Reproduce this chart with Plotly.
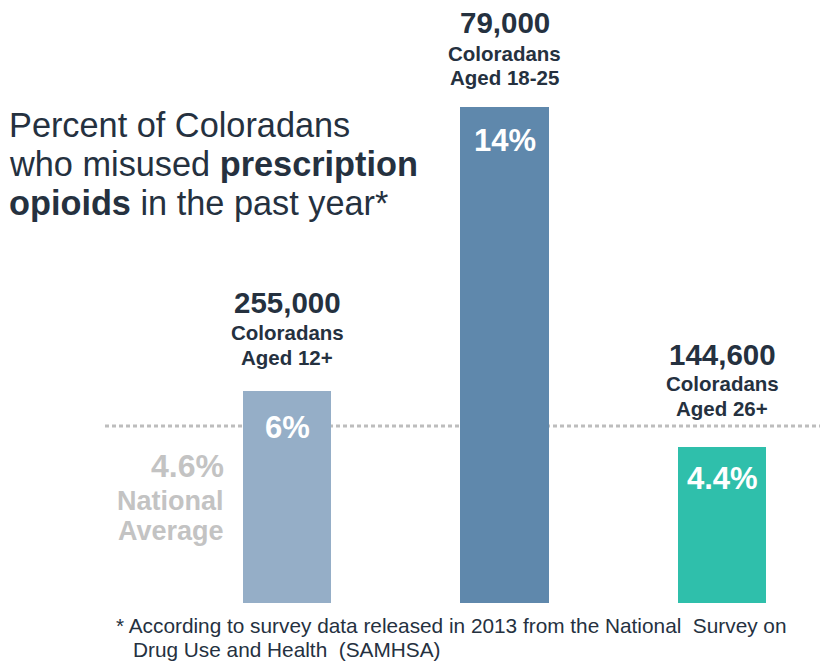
import plotly.graph_objects as go

# ---- data ----
groups = ["Aged 12+", "Aged 18-25", "Aged 26+"]
percent = [6, 14, 4.4]
percent_labels = ["6%", "14%", "4.4%"]
counts = ["255,000", "79,000", "144,600"]
national_avg_label = "4.6%"
national_avg_line_level = 5.0  # where the dotted reference line sits on the chart

# ---- styling / layout ----
W, H = 820, 662
PLOT_H = 603
bar_colors = ["#95AEC7", "#5F88AC", "#2FBFAB"]
navy = "#25313F"
grey = "#C3C3C3"
FONT = "Liberation Sans"

def px_x(px):
    return px / W

def px_y(py):
    return (PLOT_H - py) / PLOT_H

xs = list(range(len(groups)))

fig = go.Figure()
fig.add_trace(go.Bar(
    x=xs, y=percent, width=0.405,
    marker=dict(color=bar_colors, line=dict(width=0)),
    hoverinfo="skip", showlegend=False,
))

# dotted national average line
fig.add_shape(type="line", xref="paper", yref="y",
              x0=px_x(105), x1=1, y0=national_avg_line_level, y1=national_avg_line_level,
              line=dict(color="#BDBDBD", width=3, dash="4px,3px"), layer="below")

ann = []
num_shift = [88, 85, 93]
l1_shift = [58, 54, 64]
l2_shift = [33, 30, 39]
in_shift = [-37, -33, -31]
for i, g in enumerate(groups):
    ann.append(dict(x=i, y=percent[i], xref="x", yref="y", yanchor="middle", yshift=num_shift[i],
                    text=f"<b>{counts[i]}</b>", showarrow=False,
                    font=dict(family=FONT, size=29.5, color=navy)))
    ann.append(dict(x=i, y=percent[i], xref="x", yref="y", yanchor="middle", yshift=l1_shift[i],
                    text="<b>Coloradans</b>", showarrow=False,
                    font=dict(family=FONT, size=20.5, color=navy)))
    ann.append(dict(x=i, y=percent[i], xref="x", yref="y", yanchor="middle", yshift=l2_shift[i],
                    text=f"<b>{g}</b>", showarrow=False,
                    font=dict(family=FONT, size=20.5, color=navy)))
    ann.append(dict(x=i, y=percent[i], xref="x", yref="y", yanchor="middle", yshift=in_shift[i],
                    text=f"<b>{percent_labels[i]}</b>", showarrow=False,
                    font=dict(family=FONT, size=31, color="white")))

# title
title_lines = ["Percent of Coloradans",
               "who misused <b>prescription</b>",
               "<b>opioids</b> in the past year*"]
title_y = [125, 164, 203]
for t, yy in zip(title_lines, title_y):
    ann.append(dict(x=px_x(7), y=px_y(yy), xref="paper", yref="paper", xanchor="left", yanchor="middle",
                    align="left", showarrow=False, text=t,
                    font=dict(family=FONT, size=34.3, color=navy)))

# national average label
ann.append(dict(x=px_x(226), y=px_y(466), xref="paper", yref="paper", xanchor="right", yanchor="middle",
                showarrow=False, text=f"<b>{national_avg_label}</b>",
                font=dict(family=FONT, size=32, color=grey)))
for t, yy in zip(["National", "Average"], [501, 531]):
    ann.append(dict(x=px_x(226), y=px_y(yy), xref="paper", yref="paper", xanchor="right", yanchor="middle",
                    align="right", showarrow=False, text=f"<b>{t}</b>",
                    font=dict(family=FONT, size=27, color=grey)))

# footnote
ann.append(dict(x=px_x(114), y=px_y(625), xref="paper", yref="paper", xanchor="left", yanchor="middle",
                showarrow=False,
                text="* According to survey data released in 2013 from the National  Survey on",
                font=dict(family=FONT, size=20.8, color=navy)))
ann.append(dict(x=px_x(131), y=px_y(649), xref="paper", yref="paper", xanchor="left", yanchor="middle",
                showarrow=False, text="Drug Use and Health  (SAMHSA)",
                font=dict(family=FONT, size=20.8, color=navy)))

px_per_unit = 217.5
fig.update_layout(
    width=W, height=H,
    margin=dict(l=0, r=0, t=0, b=H - PLOT_H, pad=0),
    paper_bgcolor="white", plot_bgcolor="white",
    xaxis=dict(range=[-287 / px_per_unit, (W - 287) / px_per_unit], visible=False, fixedrange=True),
    yaxis=dict(range=[0, PLOT_H / 35.4], visible=False, fixedrange=True),
    annotations=ann,
    bargap=0,
)

fig.write_html("out.html", config={"displayModeBar": False})
